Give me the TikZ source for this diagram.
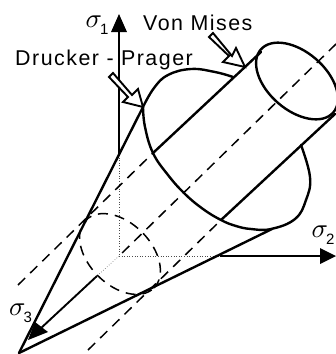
\documentclass[tikz,border=0pt]{standalone}
\usepackage{fontspec}
\setmainfont{Liberation Sans}
\newfontfamily\lblfont[LetterSpace=7]{Liberation Sans}
\newcommand{\sgm}[1]{\scalebox{2.7}{$\sigma$}\kern-2pt\raisebox{-7pt}{\fontsize{15}{15}\selectfont #1}}
\tikzset{
  heavy/.style={line width=2.4pt,line join=round,line cap=round},
  axisline/.style={line width=1.9pt},
  fine/.style={line width=0.6pt,dotted,black!70},
  dashline/.style={line width=1.5pt,dash pattern=on 10pt off 7pt},
  hollow/.style={line width=1.9pt,fill=white,line join=miter},
  solidtip/.style={fill=black,draw=none},
  lbl/.style={font=\fontsize{21.4}{22}\lblfont,inner sep=0pt,anchor=base west},
  sig/.style={inner sep=0pt,anchor=center}
}
\begin{document}
\begin{tikzpicture}[x=1pt,y=-1pt]
\useasboundingbox (0,0) rectangle (336,354);
\clip (0,0) rectangle (336,354);
\coordinate (O) at (119,256);
\coordinate (apex) at (19,353);
\coordinate (c1) at (143,107);
\coordinate (c2) at (272,229);
\coordinate (s1) at (119,155);
\coordinate (s1tip) at (119,14);
\coordinate (s2) at (220,256);
\coordinate (s2tip) at (336,256);
\coordinate (s3) at (97,276);
\coordinate (s3tip) at (30,338);
% thin dotted axes inside
\draw[fine] (s1) -- (O);
\draw[fine] (O) -- (s2);
\draw[fine] (O) -- (s3);
% axes
\draw[axisline] (s1) -- (119,30);
\fill[solidtip] (s1tip) -- (127,32) -- (111,32) -- cycle;
\draw[axisline] (s2) -- (322,256);
\fill[solidtip] (s2tip) -- (320,248) -- (320,264) -- cycle;
\draw[axisline] (s3) -- (40,329);
\fill[solidtip] (28,340) -- (35,322) -- (48,332) -- cycle;
% dashed cylinder lines
\coordinate (axend) at (336,44);
\coordinate (t1) at (18,285);
\coordinate (t2) at (153,153);
\coordinate (b1) at (88,350);
\coordinate (b2) at (221,220);
\draw[dashline] (axend) -- (O);
\draw[dashline] (t1) -- (t2);
\draw[dashline] (b1) -- (b2);
% dashed circle
\draw[dashline] (120,254) circle[x radius=48pt,y radius=31pt,rotate=-45];
% Drucker-Prager cap
\draw[heavy] plot[smooth,tension=0.7] coordinates {(143,107) (145,127) (153,153) (168,175) (185,194) (203,209) (221,220) (236,226) (251,229) (271,229) (295,219) (306,200) (310,177) (301,145)};
\draw[heavy] plot[smooth,tension=0.7] coordinates {(143,107) (154,88) (168,75) (191,69) (215,72) (233,77)};
% Cone
\draw[heavy] (apex) -- (c1);
\draw[heavy] (apex) -- (c2);
% Cylinder
\coordinate (t3) at (261,52);
\coordinate (b3) at (335,114);
\draw[heavy] (t2) -- (t3);
\draw[heavy] (b2) -- (b3);
\draw[heavy] (297,81) circle[x radius=48pt,y radius=29pt,rotate=-41];
% hollow arrows
\draw[hollow] (113,73) -- (132,95) -- (138,89) -- (143,107) -- (123,102) -- (128,97) -- (109,77) -- cycle;
\draw[hollow] (213,33) -- (232,56) -- (236,48) -- (245,67) -- (223,62) -- (229,56) -- (209,37) -- cycle;
% labels
\node[lbl] (dp) at (15,65) {Drucker - Prager};
\node[lbl] (vm) at (143,30) {Von Mises};
\node[sig] (sg1) at (97,25) {\sgm{1}};
\node[sig] (sg2) at (323,235) {\sgm{2}};
\node[sig] (sg3) at (20.5,313) {\sgm{3}};
\end{tikzpicture}
\end{document}
